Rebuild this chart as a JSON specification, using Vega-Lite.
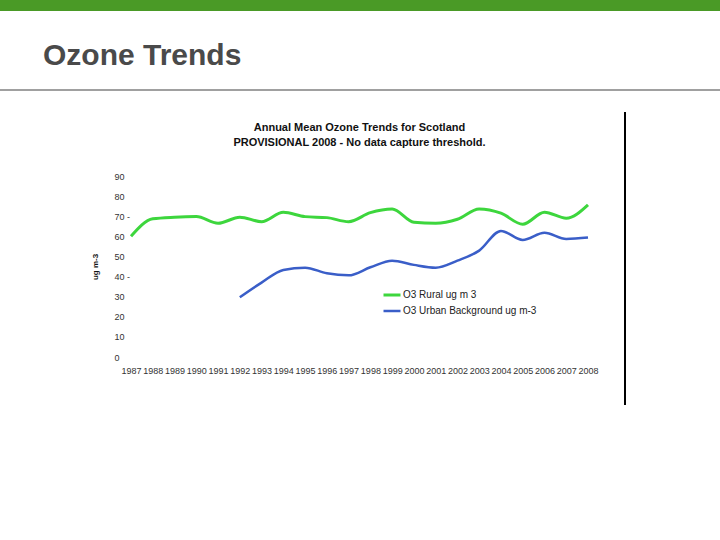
{
  "$schema": "https://vega.github.io/schema/vega-lite/v6.json",
  "padding": 0,
  "background": "white",
  "spacing": 21,
  "config": {
    "font": "Liberation Sans",
    "view": {"stroke": null}
  },
  "vconcat": [
    {
      "spacing": 30,
      "vconcat": [
        {
          "width": 720,
          "height": 11,
          "view": {"fill": "#4a9a26", "stroke": null},
          "data": {"values": []},
          "mark": "point"
        },
        {
          "width": 720,
          "height": 2,
          "view": {"fill": "#a0a0a0", "stroke": null},
          "title": {
            "text": "Ozone Trends",
            "anchor": "start",
            "dx": 43,
            "fontSize": 30,
            "font": "Liberation Sans",
            "fontWeight": "bold",
            "color": "#4a4a4a",
            "offset": 18
          },
          "data": {"values": []},
          "mark": "point"
        }
      ]
    },
    {
      "spacing": 25,
      "hconcat": [
        {
          "width": 66,
          "height": 1,
          "data": {"values": []},
          "mark": "point"
        },
        {
          "spacing": 9,
          "vconcat": [
            {
              "width": 1,
              "height": 1,
              "data": {"values": []},
              "mark": "point"
            },
            {
              "width": 457,
              "height": 181,
              "title": {
                "text": ["Annual Mean Ozone Trends for Scotland", "PROVISIONAL 2008 - No data capture threshold."],
                "fontSize": 11,
                "font": "Liberation Sans",
                "fontWeight": "bold",
                "color": "#111111",
                "lineHeight": 15,
                "offset": 24,
                "anchor": "middle"
              },
              "data": {
                "values": [
                  {"year": "1987", "series": "O3 Rural ug m 3", "value": 60},
                  {"year": "1988", "series": "O3 Rural ug m 3", "value": 68.7},
                  {"year": "1989", "series": "O3 Rural ug m 3", "value": 69.5},
                  {"year": "1990", "series": "O3 Rural ug m 3", "value": 69.8},
                  {"year": "1991", "series": "O3 Rural ug m 3", "value": 66.5},
                  {"year": "1992", "series": "O3 Rural ug m 3", "value": 69.5},
                  {"year": "1993", "series": "O3 Rural ug m 3", "value": 67.3},
                  {"year": "1994", "series": "O3 Rural ug m 3", "value": 72},
                  {"year": "1995", "series": "O3 Rural ug m 3", "value": 69.8},
                  {"year": "1996", "series": "O3 Rural ug m 3", "value": 69.3},
                  {"year": "1997", "series": "O3 Rural ug m 3", "value": 67.3},
                  {"year": "1998", "series": "O3 Rural ug m 3", "value": 71.8},
                  {"year": "1999", "series": "O3 Rural ug m 3", "value": 73.6},
                  {"year": "2000", "series": "O3 Rural ug m 3", "value": 67},
                  {"year": "2001", "series": "O3 Rural ug m 3", "value": 66.5},
                  {"year": "2002", "series": "O3 Rural ug m 3", "value": 68.5},
                  {"year": "2003", "series": "O3 Rural ug m 3", "value": 73.6},
                  {"year": "2004", "series": "O3 Rural ug m 3", "value": 71.5},
                  {"year": "2005", "series": "O3 Rural ug m 3", "value": 66},
                  {"year": "2006", "series": "O3 Rural ug m 3", "value": 72},
                  {"year": "2007", "series": "O3 Rural ug m 3", "value": 69},
                  {"year": "2008", "series": "O3 Rural ug m 3", "value": 75.6},
                  {"year": "1992", "series": "O3 Urban Background ug m-3", "value": 29.7},
                  {"year": "1993", "series": "O3 Urban Background ug m-3", "value": 37},
                  {"year": "1994", "series": "O3 Urban Background ug m-3", "value": 43.3},
                  {"year": "1995", "series": "O3 Urban Background ug m-3", "value": 44.4},
                  {"year": "1996", "series": "O3 Urban Background ug m-3", "value": 41.6},
                  {"year": "1997", "series": "O3 Urban Background ug m-3", "value": 40.6},
                  {"year": "1998", "series": "O3 Urban Background ug m-3", "value": 44.6},
                  {"year": "1999", "series": "O3 Urban Background ug m-3", "value": 47.9},
                  {"year": "2000", "series": "O3 Urban Background ug m-3", "value": 45.8},
                  {"year": "2001", "series": "O3 Urban Background ug m-3", "value": 44.4},
                  {"year": "2002", "series": "O3 Urban Background ug m-3", "value": 47.9},
                  {"year": "2003", "series": "O3 Urban Background ug m-3", "value": 52.9},
                  {"year": "2004", "series": "O3 Urban Background ug m-3", "value": 62.7},
                  {"year": "2005", "series": "O3 Urban Background ug m-3", "value": 58.2},
                  {"year": "2006", "series": "O3 Urban Background ug m-3", "value": 61.8},
                  {"year": "2007", "series": "O3 Urban Background ug m-3", "value": 58.7},
                  {"year": "2008", "series": "O3 Urban Background ug m-3", "value": 59.4}
                ]
              },
              "mark": {"type": "line", "interpolate": "monotone"},
              "encoding": {
                "x": {
                  "field": "year",
                  "type": "ordinal",
                  "scale": {"type": "point", "padding": 0},
                  "axis": {
                    "title": null,
                    "labelAngle": 0,
                    "labelOverlap": false,
                    "labelFontSize": 9,
                    "labelColor": "#333333",
                    "labelPadding": 9,
                    "ticks": false,
                    "domain": false,
                    "grid": false
                  }
                },
                "y": {
                  "field": "value",
                  "type": "quantitative",
                  "scale": {"domain": [0, 90], "nice": false},
                  "axis": {
                    "title": "ug m-3",
                    "titleFontSize": 8,
                    "titleFontWeight": "bold",
                    "titleColor": "#111111",
                    "titlePadding": 15,
                    "values": [0, 10, 20, 30, 40, 50, 60, 70, 80, 90],
                    "labelExpr": "datum.value == 70 || datum.value == 40 ? datum.label + ' -' : datum.label",
                    "labelAlign": "left",
                    "labelPadding": 17,
                    "labelFontSize": 9,
                    "labelColor": "#333333",
                    "ticks": false,
                    "domain": false,
                    "grid": false
                  }
                },
                "color": {
                  "field": "series",
                  "type": "nominal",
                  "scale": {
                    "domain": ["O3 Rural ug m 3", "O3 Urban Background ug m-3"],
                    "range": ["#3dd63d", "#3a5ec8"]
                  },
                  "legend": {
                    "title": null,
                    "orient": "none",
                    "legendX": 382,
                    "legendY": 285,
                    "symbolType": "stroke",
                    "symbolSize": 289,
                    "labelFontSize": 10,
                    "labelColor": "#222222",
                    "labelOffset": 1,
                    "rowPadding": -8.5,
                    "padding": 0
                  }
                },
                "strokeWidth": {
                  "field": "series",
                  "type": "nominal",
                  "scale": {
                    "domain": ["O3 Rural ug m 3", "O3 Urban Background ug m-3"],
                    "range": [3, 2.5]
                  },
                  "legend": {
                    "title": null,
                    "orient": "none",
                    "legendX": 382,
                    "legendY": 285,
                    "symbolType": "stroke",
                    "symbolSize": 289,
                    "labelFontSize": 10,
                    "labelColor": "#222222",
                    "labelOffset": 1,
                    "rowPadding": -8.5,
                    "padding": 0
                  }
                }
              }
            }
          ]
        },
        {
          "width": 2,
          "height": 293,
          "view": {"fill": "#000000", "stroke": null},
          "data": {"values": []},
          "mark": "point"
        }
      ]
    }
  ]
}
